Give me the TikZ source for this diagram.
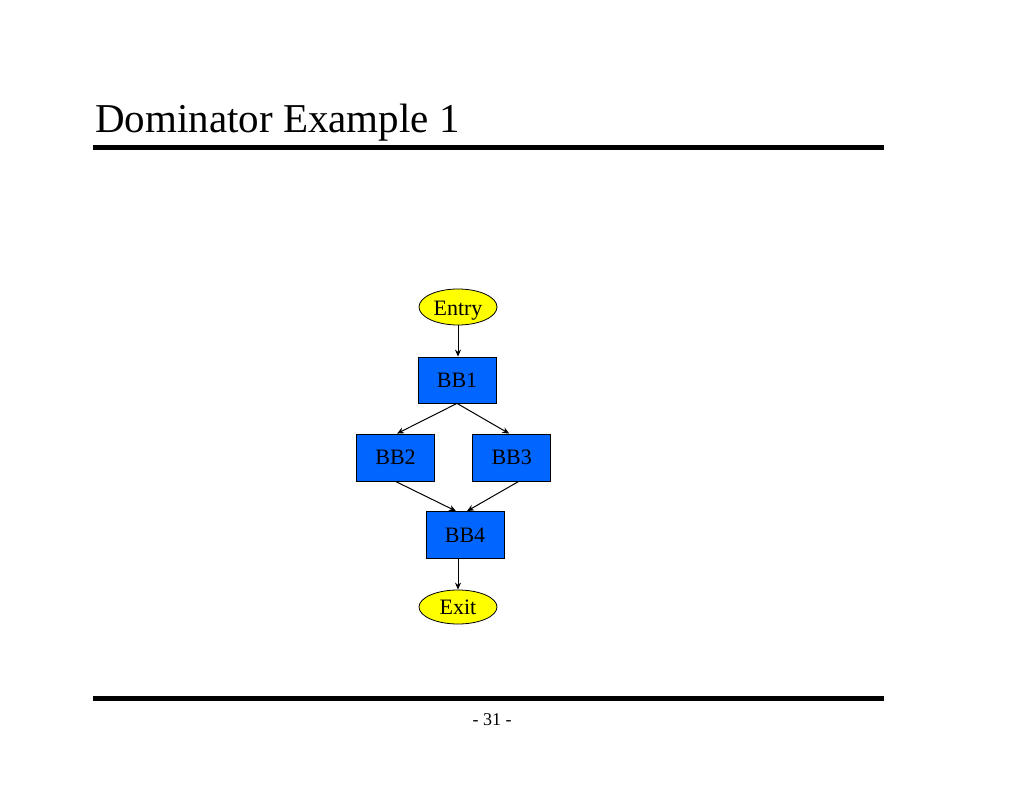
\documentclass[tikz,border=0pt]{standalone}
\usepackage{fontspec}
\setmainfont{Liberation Serif}
\usetikzlibrary{shapes.geometric,arrows.meta}
\definecolor{bbblue}{RGB}{0,102,255}
\definecolor{termyellow}{RGB}{255,255,0}
\tikzset{
  bbbox/.style={draw=black, fill=bbblue, line width=0.8pt, minimum width=78pt, minimum height=47pt, inner sep=0pt, font=\fontsize{22}{24}\selectfont},
  terminal/.style={draw=black, fill=termyellow, ellipse, line width=0.8pt, minimum width=78pt, minimum height=36pt, inner sep=0pt, font=\fontsize{22}{24}\selectfont},
  edge/.style={draw=black, line width=1pt, -{Stealth[length=7pt,width=6pt]}},
  rule/.style={line width=5pt}
}
\begin{document}
\begin{tikzpicture}[x=1pt,y=-1pt]
\useasboundingbox (0,0) rectangle (1024,791);
\node[anchor=base west, inner sep=0pt, font=\fontsize{41}{45}\selectfont] (title) at (95,133) {Dominator Example 1};
\coordinate (r1a) at (93,147.5);
\coordinate (r1b) at (884,147.5);
\draw[rule] (r1a) -- (r1b);
\coordinate (r2a) at (93,698);
\coordinate (r2b) at (884,698);
\draw[rule] (r2a) -- (r2b);
\node[anchor=base, inner sep=0pt, font=\fontsize{18}{20}\selectfont] (page) at (492,725) {- 31 -};

\node[terminal, text depth=0pt, yshift=0pt] (entry) at (458,307) {\raisebox{-2pt}{Entry}};
\node[bbbox, minimum height=46pt] (bb1) at (457,380) {BB1};
\node[bbbox] (bb2) at (395.5,457.5) {BB2};
\node[bbbox] (bb3) at (511.7,457.5) {BB3};
\node[bbbox] (bb4) at (465,535) {BB4};
\node[terminal, minimum height=34pt] (exit) at (458,607) {\raisebox{-2pt}{Exit}};

\draw[edge] (entry.south) -- (bb1.north -| entry.south);
\draw[edge] (bb1.south) -- ([xshift=1.5pt]bb2.north);
\draw[edge] (bb1.south) -- ([xshift=-2.5pt]bb3.north);
\draw[edge] (bb2.south) -- ([xshift=-9pt]bb4.north);
\draw[edge] ([xshift=7pt]bb3.south) -- ([xshift=2pt]bb4.north);
\draw[edge] (bb4.south -| exit.north) -- (exit.north);
\end{tikzpicture}
\end{document}
